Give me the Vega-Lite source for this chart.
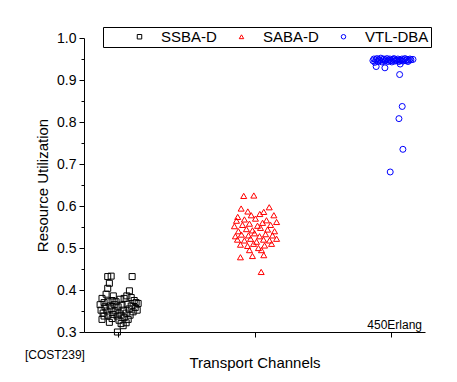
{
  "$schema": "https://vega.github.io/schema/vega-lite/v6.json",
  "width": 341,
  "height": 294,
  "autosize": {"type": "none"},
  "padding": {"left": 84, "top": 38, "right": 32, "bottom": 50},
  "background": "white",
  "config": {
    "view": {"stroke": null},
    "font": "Liberation Sans",
    "axis": {"labelFont": "Liberation Sans", "titleFont": "Liberation Sans", "labelColor": "black", "titleColor": "black", "domainColor": "black", "tickColor": "black", "grid": false, "titleFontWeight": "normal"},
    "legend": {"labelFont": "Liberation Sans", "titleFont": "Liberation Sans"}
  },
  "datasets": {
    "pts": [
      {"g": "SSBA-D", "x": 0.924, "y": 0.432}, {"g": "SSBA-D", "x": 0.949, "y": 0.433}, {"g": "SSBA-D", "x": 1.103, "y": 0.432},
      {"g": "SSBA-D", "x": 0.936, "y": 0.416}, {"g": "SSBA-D", "x": 0.924, "y": 0.404}, {"g": "SSBA-D", "x": 0.912, "y": 0.390},
      {"g": "SSBA-D", "x": 1.083, "y": 0.398}, {"g": "SSBA-D", "x": 0.882, "y": 0.380}, {"g": "SSBA-D", "x": 0.965, "y": 0.386},
      {"g": "SSBA-D", "x": 1.064, "y": 0.386}, {"g": "SSBA-D", "x": 1.096, "y": 0.382}, {"g": "SSBA-D", "x": 0.868, "y": 0.365},
      {"g": "SSBA-D", "x": 0.897, "y": 0.370}, {"g": "SSBA-D", "x": 0.926, "y": 0.372}, {"g": "SSBA-D", "x": 0.956, "y": 0.375},
      {"g": "SSBA-D", "x": 0.985, "y": 0.372}, {"g": "SSBA-D", "x": 1.015, "y": 0.378}, {"g": "SSBA-D", "x": 1.044, "y": 0.380},
      {"g": "SSBA-D", "x": 1.118, "y": 0.375}, {"g": "SSBA-D", "x": 1.132, "y": 0.370}, {"g": "SSBA-D", "x": 1.147, "y": 0.368},
      {"g": "SSBA-D", "x": 0.875, "y": 0.352}, {"g": "SSBA-D", "x": 0.904, "y": 0.360}, {"g": "SSBA-D", "x": 0.941, "y": 0.362},
      {"g": "SSBA-D", "x": 0.971, "y": 0.365}, {"g": "SSBA-D", "x": 1.000, "y": 0.360}, {"g": "SSBA-D", "x": 1.029, "y": 0.364},
      {"g": "SSBA-D", "x": 1.066, "y": 0.366}, {"g": "SSBA-D", "x": 1.096, "y": 0.362}, {"g": "SSBA-D", "x": 1.125, "y": 0.358},
      {"g": "SSBA-D", "x": 0.890, "y": 0.345}, {"g": "SSBA-D", "x": 0.919, "y": 0.350}, {"g": "SSBA-D", "x": 0.949, "y": 0.355},
      {"g": "SSBA-D", "x": 0.978, "y": 0.350}, {"g": "SSBA-D", "x": 1.007, "y": 0.345}, {"g": "SSBA-D", "x": 1.037, "y": 0.352},
      {"g": "SSBA-D", "x": 1.081, "y": 0.355}, {"g": "SSBA-D", "x": 1.110, "y": 0.348}, {"g": "SSBA-D", "x": 1.140, "y": 0.352},
      {"g": "SSBA-D", "x": 0.897, "y": 0.338}, {"g": "SSBA-D", "x": 0.926, "y": 0.340}, {"g": "SSBA-D", "x": 0.963, "y": 0.342},
      {"g": "SSBA-D", "x": 0.993, "y": 0.338}, {"g": "SSBA-D", "x": 1.022, "y": 0.340}, {"g": "SSBA-D", "x": 1.059, "y": 0.345},
      {"g": "SSBA-D", "x": 1.088, "y": 0.340}, {"g": "SSBA-D", "x": 0.882, "y": 0.330}, {"g": "SSBA-D", "x": 0.956, "y": 0.332},
      {"g": "SSBA-D", "x": 1.007, "y": 0.328}, {"g": "SSBA-D", "x": 1.044, "y": 0.334}, {"g": "SSBA-D", "x": 1.074, "y": 0.330},
      {"g": "SSBA-D", "x": 0.936, "y": 0.323}, {"g": "SSBA-D", "x": 1.022, "y": 0.320}, {"g": "SSBA-D", "x": 1.059, "y": 0.322},
      {"g": "SSBA-D", "x": 0.995, "y": 0.300}, {"g": "SSBA-D", "x": 1.037, "y": 0.315},

      {"g": "SABA-D", "x": 1.921, "y": 0.624}, {"g": "SABA-D", "x": 1.995, "y": 0.625}, {"g": "SABA-D", "x": 1.902, "y": 0.594},
      {"g": "SABA-D", "x": 1.951, "y": 0.587}, {"g": "SABA-D", "x": 2.108, "y": 0.597}, {"g": "SABA-D", "x": 1.976, "y": 0.578},
      {"g": "SABA-D", "x": 2.068, "y": 0.586}, {"g": "SABA-D", "x": 1.877, "y": 0.574}, {"g": "SABA-D", "x": 2.039, "y": 0.581},
      {"g": "SABA-D", "x": 2.142, "y": 0.578}, {"g": "SABA-D", "x": 1.868, "y": 0.565}, {"g": "SABA-D", "x": 1.926, "y": 0.568},
      {"g": "SABA-D", "x": 2.007, "y": 0.570}, {"g": "SABA-D", "x": 2.088, "y": 0.566}, {"g": "SABA-D", "x": 2.162, "y": 0.562},
      {"g": "SABA-D", "x": 1.853, "y": 0.552}, {"g": "SABA-D", "x": 1.912, "y": 0.555}, {"g": "SABA-D", "x": 1.963, "y": 0.558},
      {"g": "SABA-D", "x": 2.022, "y": 0.553}, {"g": "SABA-D", "x": 2.059, "y": 0.560}, {"g": "SABA-D", "x": 2.118, "y": 0.555},
      {"g": "SABA-D", "x": 1.882, "y": 0.540}, {"g": "SABA-D", "x": 1.941, "y": 0.545}, {"g": "SABA-D", "x": 1.985, "y": 0.542},
      {"g": "SABA-D", "x": 2.044, "y": 0.548}, {"g": "SABA-D", "x": 2.096, "y": 0.544}, {"g": "SABA-D", "x": 2.147, "y": 0.540},
      {"g": "SABA-D", "x": 1.860, "y": 0.528}, {"g": "SABA-D", "x": 1.904, "y": 0.532}, {"g": "SABA-D", "x": 1.956, "y": 0.530},
      {"g": "SABA-D", "x": 2.000, "y": 0.535}, {"g": "SABA-D", "x": 2.037, "y": 0.528}, {"g": "SABA-D", "x": 2.081, "y": 0.533},
      {"g": "SABA-D", "x": 2.132, "y": 0.530}, {"g": "SABA-D", "x": 1.875, "y": 0.520}, {"g": "SABA-D", "x": 1.926, "y": 0.518},
      {"g": "SABA-D", "x": 1.971, "y": 0.522}, {"g": "SABA-D", "x": 2.015, "y": 0.515}, {"g": "SABA-D", "x": 2.066, "y": 0.520},
      {"g": "SABA-D", "x": 2.110, "y": 0.518}, {"g": "SABA-D", "x": 2.162, "y": 0.522}, {"g": "SABA-D", "x": 1.897, "y": 0.508},
      {"g": "SABA-D", "x": 1.949, "y": 0.505}, {"g": "SABA-D", "x": 1.993, "y": 0.510}, {"g": "SABA-D", "x": 2.029, "y": 0.500},
      {"g": "SABA-D", "x": 2.074, "y": 0.506}, {"g": "SABA-D", "x": 2.125, "y": 0.510}, {"g": "SABA-D", "x": 1.963, "y": 0.495},
      {"g": "SABA-D", "x": 2.051, "y": 0.495}, {"g": "SABA-D", "x": 1.897, "y": 0.478}, {"g": "SABA-D", "x": 1.985, "y": 0.481},
      {"g": "SABA-D", "x": 2.068, "y": 0.483}, {"g": "SABA-D", "x": 2.049, "y": 0.443},

      {"g": "VTL-DBA", "x": 2.868, "y": 0.946}, {"g": "VTL-DBA", "x": 2.875, "y": 0.950}, {"g": "VTL-DBA", "x": 2.882, "y": 0.942},
      {"g": "VTL-DBA", "x": 2.890, "y": 0.948}, {"g": "VTL-DBA", "x": 2.897, "y": 0.951}, {"g": "VTL-DBA", "x": 2.904, "y": 0.944},
      {"g": "VTL-DBA", "x": 2.912, "y": 0.949}, {"g": "VTL-DBA", "x": 2.919, "y": 0.946}, {"g": "VTL-DBA", "x": 2.926, "y": 0.952},
      {"g": "VTL-DBA", "x": 2.934, "y": 0.943}, {"g": "VTL-DBA", "x": 2.941, "y": 0.948}, {"g": "VTL-DBA", "x": 2.948, "y": 0.950},
      {"g": "VTL-DBA", "x": 2.956, "y": 0.945}, {"g": "VTL-DBA", "x": 2.963, "y": 0.948}, {"g": "VTL-DBA", "x": 2.971, "y": 0.951},
      {"g": "VTL-DBA", "x": 2.978, "y": 0.944}, {"g": "VTL-DBA", "x": 2.985, "y": 0.947}, {"g": "VTL-DBA", "x": 2.993, "y": 0.950},
      {"g": "VTL-DBA", "x": 3.000, "y": 0.946}, {"g": "VTL-DBA", "x": 3.007, "y": 0.943}, {"g": "VTL-DBA", "x": 3.015, "y": 0.949},
      {"g": "VTL-DBA", "x": 3.022, "y": 0.951}, {"g": "VTL-DBA", "x": 3.029, "y": 0.945}, {"g": "VTL-DBA", "x": 3.037, "y": 0.948},
      {"g": "VTL-DBA", "x": 3.044, "y": 0.946}, {"g": "VTL-DBA", "x": 3.051, "y": 0.950}, {"g": "VTL-DBA", "x": 3.059, "y": 0.944},
      {"g": "VTL-DBA", "x": 3.066, "y": 0.948}, {"g": "VTL-DBA", "x": 3.074, "y": 0.946}, {"g": "VTL-DBA", "x": 3.081, "y": 0.950},
      {"g": "VTL-DBA", "x": 3.088, "y": 0.945}, {"g": "VTL-DBA", "x": 3.096, "y": 0.948}, {"g": "VTL-DBA", "x": 3.103, "y": 0.951},
      {"g": "VTL-DBA", "x": 3.110, "y": 0.946}, {"g": "VTL-DBA", "x": 3.118, "y": 0.949}, {"g": "VTL-DBA", "x": 3.125, "y": 0.944},
      {"g": "VTL-DBA", "x": 3.132, "y": 0.947}, {"g": "VTL-DBA", "x": 3.140, "y": 0.950}, {"g": "VTL-DBA", "x": 3.147, "y": 0.948},
      {"g": "VTL-DBA", "x": 3.162, "y": 0.949}, {"g": "VTL-DBA", "x": 2.892, "y": 0.932}, {"g": "VTL-DBA", "x": 2.956, "y": 0.929},
      {"g": "VTL-DBA", "x": 3.068, "y": 0.938}, {"g": "VTL-DBA", "x": 3.064, "y": 0.913}, {"g": "VTL-DBA", "x": 3.083, "y": 0.837},
      {"g": "VTL-DBA", "x": 3.059, "y": 0.808}, {"g": "VTL-DBA", "x": 3.088, "y": 0.735}, {"g": "VTL-DBA", "x": 2.995, "y": 0.681}
    ]
  },
  "resolve": {"axis": {"y": "independent", "x": "independent"}},
  "layer": [
    {
      "data": {"name": "pts"},
      "mark": {"type": "point", "filled": false, "strokeWidth": 1, "size": 36, "opacity": 1},
      "encoding": {
        "x": {"field": "x", "type": "quantitative", "scale": {"domain": [0.75, 3.25], "nice": false, "zero": false},
              "axis": {"values": [1, 2, 3], "labels": false, "tickSize": 5, "title": "Transport Channels", "titleFontSize": 15, "titlePadding": 18}},
        "y": {"field": "y", "type": "quantitative", "scale": {"domain": [0.3, 1.0], "nice": false, "zero": false},
              "axis": {"values": [0.3, 0.4, 0.5, 0.6, 0.7, 0.8, 0.9, 1.0], "format": ".1f", "tickSize": 5, "labelFontSize": 14, "labelPadding": 3, "title": "Resource Utilization", "titleFontSize": 15, "titlePadding": 6}},
        "shape": {"field": "g", "type": "nominal",
                  "scale": {"domain": ["SSBA-D", "SABA-D", "VTL-DBA"], "range": ["square", "triangle-up", "circle"]},
                  "legend": {"orient": "none", "legendX": 19, "legendY": -11, "direction": "horizontal",
                             "title": "MM", "titleColor": "transparent", "titleOrient": "left", "titleFontSize": 15, "titlePadding": 2,
                             "strokeColor": "black", "fillColor": "white", "padding": 2, "labelFontSize": 15, "labelColor": "black",
                             "symbolSize": 20, "symbolStrokeWidth": 1, "labelOffset": 14, "columnPadding": 17}},
        "color": {"field": "g", "type": "nominal",
                  "scale": {"domain": ["SSBA-D", "SABA-D", "VTL-DBA"], "range": ["#000000", "#ff0000", "#0000ff"]}}
      }
    },
    {
      "data": {"values": [{"label": "450Erlang"}]},
      "mark": {"type": "text", "align": "right", "baseline": "alphabetic", "fontSize": 12, "color": "black"},
      "encoding": {
        "text": {"field": "label", "type": "nominal"},
        "x": {"datum": 3.228, "type": "quantitative", "axis": null},
        "y": {"datum": 0.307, "type": "quantitative",
              "axis": {"values": [0.35, 0.45, 0.55, 0.65, 0.75, 0.85, 0.95], "labels": false, "domain": false, "tickSize": 3, "title": null, "orient": "left"}}
      }
    },
    {
      "data": {"values": [{"label": "[COST239]"}]},
      "mark": {"type": "text", "align": "center", "baseline": "middle", "fontSize": 12, "color": "black", "clip": false},
      "encoding": {
        "text": {"field": "label", "type": "nominal"},
        "x": {"datum": 0.537, "type": "quantitative", "axis": null},
        "y": {"datum": 0.245, "type": "quantitative", "axis": null}
      }
    }
  ]
}
